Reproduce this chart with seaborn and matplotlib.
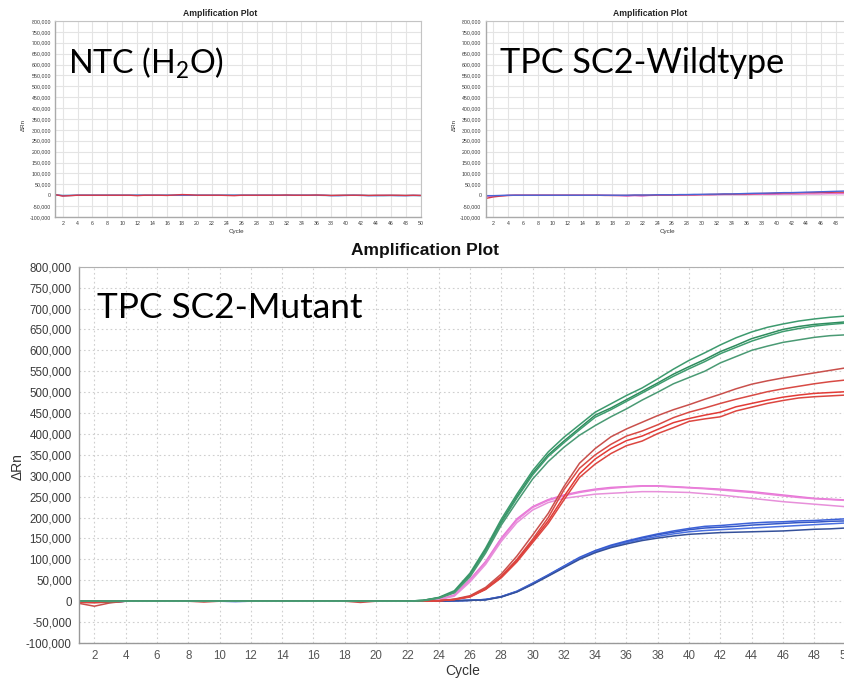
import matplotlib
matplotlib.use('Agg')
import numpy as np
import pandas as pd
import matplotlib.pyplot as plt
import seaborn as sns
from matplotlib.ticker import FuncFormatter, MultipleLocator

# cycles shown on all three plots
cycles = list(range(1, 51))

# --- TPC SC2-Mutant (big plot), dRn in thousands, one list per well ---
green_a = [0, 0, -1, 0, 0, 0, 0, 0, 0, 0,
           0, 0, 0, 0, 0, 0, 0, 0, 0, 0,
           0, 0, 2, 9, 25, 67, 127, 196, 256, 312,
           357, 392, 422, 452, 472, 492, 510, 532, 555, 576,
           594, 613, 630, 644, 655, 663, 670, 675, 679, 682]
green_b = [0, 0, 0, 0, 0, 0, 0, 0, 0, 0,
           0, 0, 0, 0, 0, 0, 0, 0, 0, 0,
           0, 0, 2, 8, 22, 63, 122, 190, 250, 306,
           350, 383, 414, 445, 462, 482, 502, 522, 543, 561,
           578, 597, 612, 628, 639, 650, 657, 662, 665, 668]
green_c = [0, 0, 0, 0, 0, 0, 0, 0, 0, 0,
           0, 0, 0, 0, 0, 0, 0, 0, 0, 0,
           0, 0, 2, 8, 21, 61, 119, 187, 247, 302,
           346, 379, 410, 440, 458, 478, 498, 518, 538, 556,
           573, 592, 607, 622, 634, 645, 652, 658, 662, 665]
green_d = [0, 0, 0, 0, 0, 0, 0, 0, 0, 0,
           0, 0, 0, 0, 0, 0, 0, 0, 0, 0,
           0, 0, 1, 7, 20, 58, 115, 182, 238, 292,
           334, 368, 397, 420, 441, 460, 481, 500, 520, 535,
           550, 570, 585, 600, 610, 619, 625, 631, 635, 637]

red_a = [-5, -12, -4, 0, 0, 0, 0, 0, -2, 0,
         0, 0, 0, 0, 0, 0, 0, 0, -3, 0,
         0, 0, 0, 1, 5, 13, 33, 65, 108, 158,
         210, 274, 330, 365, 393, 412, 428, 444, 458, 470,
         483, 495, 508, 519, 527, 534, 540, 546, 552, 558]
red_b = [-3, -4, -2, 0, 0, 0, 0, 0, 0, 0,
         0, 0, 0, 0, 0, 0, 0, 0, 0, 0,
         0, 0, 0, 1, 4, 11, 30, 60, 100, 148,
         200, 266, 318, 350, 375, 395, 407, 422, 439, 452,
         462, 473, 483, 492, 501, 508, 514, 520, 525, 529]
red_c = [0, -2, -1, 0, 0, 0, 0, 0, 0, 0,
         0, 0, 0, 0, 0, 0, 0, 0, 0, 0,
         0, 0, 0, 1, 4, 11, 29, 58, 97, 144,
         192, 250, 305, 340, 365, 384, 395, 411, 427, 437,
         445, 452, 465, 473, 481, 488, 493, 497, 499, 501]
red_d = [0, 0, 0, 0, 0, 0, 0, 0, 0, 0,
         0, 0, 0, 0, 0, 0, 0, 0, 0, 0,
         0, 0, 0, 1, 4, 10, 28, 56, 94, 140,
         186, 242, 296, 328, 353, 372, 383, 401, 415, 430,
         436, 441, 455, 464, 473, 480, 486, 489, 491, 493]

pink_a = [0, -1, 0, 0, 0, 0, 0, 0, 0, 0,
          0, 0, 0, 0, 0, 0, 0, 0, 0, 0,
          0, 0, 1, 4, 15, 52, 95, 151, 197, 226,
          243, 254, 262, 268, 272, 274, 276, 276, 274, 272,
          270, 268, 265, 262, 258, 254, 250, 246, 244, 242]
pink_b = [0, 0, 0, 0, 0, 0, 0, 0, 0, 0,
          0, 0, 0, 0, 0, 0, 0, 0, 0, 0,
          0, 0, 1, 4, 14, 50, 92, 148, 194, 224,
          241, 252, 260, 266, 270, 273, 275, 275, 273, 271,
          269, 266, 263, 260, 256, 252, 248, 245, 243, 241]
pink_c = [0, 0, 0, 0, 0, 0, 0, 0, 0, 0,
          0, 0, 0, 0, 0, 0, 0, 0, 0, 0,
          0, 0, 1, 3, 12, 46, 88, 143, 188, 218,
          236, 246, 251, 256, 258, 260, 262, 262, 261, 260,
          257, 254, 250, 246, 242, 238, 235, 232, 229, 226]

blue_a = [-2, -1, -3, 0, 0, 0, 0, 0, 0, 0,
          -1, 0, 0, 0, 0, 0, 0, 0, 0, 0,
          0, 0, 0, 0, 1, 2, 4, 11, 24, 43,
          63, 84, 105, 121, 134, 144, 153, 161, 168, 174,
          179, 181, 184, 187, 189, 190, 192, 193, 195, 197]
blue_b = [-1, -2, -2, 0, 0, 0, 0, 0, 0, 0,
          0, 0, 0, 0, 0, 0, 0, 0, 0, 0,
          0, 0, 0, 0, 1, 2, 4, 11, 23, 42,
          62, 83, 103, 120, 132, 142, 151, 159, 165, 171,
          175, 177, 179, 182, 184, 186, 188, 189, 191, 192]
blue_c = [0, -1, -1, 0, 0, 0, 0, 0, 0, 0,
          0, 0, 0, 0, 0, 0, 0, 0, 0, 0,
          0, 0, 0, 0, 1, 2, 4, 10, 23, 41,
          61, 82, 102, 118, 130, 140, 148, 155, 161, 166,
          169, 171, 173, 175, 177, 179, 181, 183, 185, 187]
blue_d = [0, 0, 0, 0, 0, 0, 0, 0, 0, 0,
          0, 0, 0, 0, 0, 0, 0, 0, 0, 0,
          0, 0, 0, 0, 1, 2, 3, 10, 22, 40,
          60, 80, 100, 116, 128, 137, 145, 151, 156, 160,
          162, 164, 165, 166, 167, 168, 170, 172, 173, 175]

# --- NTC (H2O), dRn in thousands ---
ntc_red = [3, -4, -2, 0, 0, 0, 0, 0, 0, 0,
           0, -2, 0, 0, 0, -1, 1, 3, 2, 0,
           0, 0, 0, -1, -2, 0, 0, 0, 0, 0,
           0, 1, 0, 0, 0, 1, 0, -1, 0, 0,
           0, 0, -1, 0, 0, 0, 0, -1, 0, -1]
ntc_blue = [2, -2, -1, 0, 0, 0, 0, 0, 0, 0,
            0, 0, 0, 0, 0, 0, 0, 0, 0, 0,
            0, 0, 0, 0, 0, 0, 0, 0, 0, 0,
            0, 0, 0, 0, 0, 0, 0, -2, -2, -1,
            0, -1, -2, -2, -1, -1, -2, -2, -1, -1]
ntc_teal = [1, -1, -1, 0, 0, 0, 0, 0, 0, 0,
            0, 0, 0, 0, 0, 0, 0, 0, 0, 0,
            0, 0, 0, 0, 0, 0, 0, 0, 0, 0,
            0, 0, 0, 0, 0, 0, -1, -1, -1, 0,
            0, 0, -1, -1, -2, -1, -1, -1, -1, -2]

# --- TPC SC2-Wildtype, dRn in thousands ---
wt_red = [-15, -8, -4, -1, 0, 0, 0, 0, 0, 0,
          0, 0, 0, 0, 0, 0, -1, -1, -1, -1,
          0, 0, 0, 1, 1, 1, 2, 2, 2, 3,
          3, 4, 5, 5, 6, 6, 7, 8, 8, 9,
          10, 10, 11, 12, 12, 13, 13, 14, 14, 15]
wt_blue = [-2, -2, -1, 0, 0, 0, 0, 0, 0, 0,
           0, 0, 0, 0, 0, 0, 0, 0, 0, 0,
           1, 1, 1, 2, 2, 2, 3, 3, 4, 4,
           5, 5, 6, 6, 7, 8, 9, 9, 10, 11,
           12, 12, 13, 14, 15, 16, 17, 18, 19, 20]
wt_pink = [-5, -4, -2, -1, 0, 0, 0, 0, 0, 0,
           0, 0, 0, 0, 0, 0, 0, -1, -2, -4,
           -2, -4, -1, 0, 0, 0, 0, 1, 1, 2,
           2, 2, 3, 3, 3, 3, 4, 4, 4, 4,
           5, 5, 5, 6, 6, 6, 7, 7, 7, 8]

mutant_curves = {
    'blue_a': blue_a, 'blue_b': blue_b, 'blue_c': blue_c, 'blue_d': blue_d,
    'pink_a': pink_a, 'pink_b': pink_b, 'pink_c': pink_c,
    'red_a': red_a, 'red_b': red_b, 'red_c': red_c, 'red_d': red_d,
    'green_a': green_a, 'green_b': green_b, 'green_c': green_c, 'green_d': green_d,
}
ntc_curves = {'ntc_teal': ntc_teal, 'ntc_blue': ntc_blue, 'ntc_red': ntc_red}
wt_curves = {'wt_pink': wt_pink, 'wt_red': wt_red, 'wt_blue': wt_blue}

palette = {
    'green_a': '#3d9a6e', 'green_b': '#2f8c5e', 'green_c': '#3f9d70', 'green_d': '#4a9a74',
    'red_a': '#c9504c', 'red_b': '#d84a44', 'red_c': '#e23b36', 'red_d': '#dc4640',
    'pink_a': '#e774d6', 'pink_b': '#ea82da', 'pink_c': '#e790da',
    'blue_a': '#3d62d8', 'blue_b': '#3558c8', 'blue_c': '#4a70e0', 'blue_d': '#34509a',
    'ntc_red': '#d9384a', 'ntc_blue': '#4a70d8', 'ntc_teal': '#5ab0c0',
    'wt_red': '#d9384a', 'wt_blue': '#4a66d8', 'wt_pink': '#e070d0',
}

W, H = 845, 679


def to_long(curves):
    frames = []
    for name, vals in curves.items():
        frames.append(pd.DataFrame({'cycle': cycles, 'drn': np.array(vals) * 1000, 'well': name}))
    return pd.concat(frames, ignore_index=True)


def px_axes(fig, left, right, top, bottom):
    return fig.add_axes([left / W, 1 - bottom / H, (right - left) / W, (bottom - top) / H])


def draw_panel(ax, curves, lw, tick_size, label_size, tick_len, grid_ls, grid_color, spine_color):
    df = to_long(curves)
    sns.lineplot(data=df, x='cycle', y='drn', hue='well', palette=palette, estimator=None,
                 legend=False, ax=ax, linewidth=lw)
    ax.set_xlim(1, 50)
    ax.set_ylim(-100000, 800000)
    ax.set_xticks(range(2, 51, 2))
    ax.yaxis.set_major_locator(MultipleLocator(50000))
    ax.yaxis.set_major_formatter(FuncFormatter(lambda v, p: f'{int(v):,}'))
    ax.grid(True, color=grid_color, linestyle=grid_ls, linewidth=0.8)
    ax.set_axisbelow(True)
    ax.tick_params(labelsize=tick_size, length=tick_len, width=0.6, pad=1.5,
                   colors=spine_color, labelcolor='#3a3a3a')
    for side in ['left', 'bottom']:
        ax.spines[side].set_color(spine_color)
        ax.spines[side].set_linewidth(1.0)
    for side in ['top', 'right']:
        ax.spines[side].set_color('#c4c4c4')
        ax.spines[side].set_linewidth(0.8)
    ax.set_xlabel('Cycle', fontsize=label_size, color='#333333')
    ax.set_ylabel('ΔRn', fontsize=label_size, color='#333333')


def main():
    sns.set_style('white')
    plt.rcParams['font.family'] = ['Liberation Sans', 'DejaVu Sans']
    plt.rcParams['mathtext.fontset'] = 'custom'
    plt.rcParams['mathtext.rm'] = 'Lato'

    fig = plt.figure(figsize=(W / 100, H / 100), dpi=100)

    # top left: NTC
    ax1 = px_axes(fig, 55.2, 420.7, 21, 217)
    draw_panel(ax1, ntc_curves, 1.0, 3.8, 4.5, 1.5, '-', '#e4e4e4', '#aaaaaa')
    ax1.xaxis.set_label_coords(0.497, -0.062)
    ax1.yaxis.set_label_coords(-0.079, 0.47)

    # top right: wildtype (cut off at the right edge, last tick label not visible)
    ax2 = px_axes(fig, 485.6, 851, 21, 217)
    draw_panel(ax2, wt_curves, 1.0, 3.8, 4.5, 1.5, '-', '#e4e4e4', '#aaaaaa')
    ax2.set_xticklabels([str(c) if c < 50 else '' for c in range(2, 51, 2)])
    ax2.xaxis.set_label_coords(0.497, -0.062)
    ax2.yaxis.set_label_coords(-0.079, 0.47)

    # bottom: mutant
    ax3 = px_axes(fig, 78.7, 845.6, 266.7, 643)
    draw_panel(ax3, mutant_curves, 1.1, 8.3, 10, 2.5, (0, (1.5, 2.5)), '#cfcfcf', '#999999')
    ax3.tick_params(pad=2.5)
    ax3.tick_params(axis='x', labelcolor='#555555')
    ax3.xaxis.set_label_coords(0.501, -0.055)
    ax3.yaxis.set_label_coords(-0.071, 0.47)
    ax3.spines['top'].set_color('#b0b0b0')

    # plot titles
    fig.text(220 / W, 1 - 13.5 / H, 'Amplification Plot', ha='center', va='center',
             fontsize=6.2, fontweight='bold', color='#222222')
    fig.text(650 / W, 1 - 13.5 / H, 'Amplification Plot', ha='center', va='center',
             fontsize=6.2, fontweight='bold', color='#222222')
    fig.text(425.5 / W, 1 - 251 / H, 'Amplification Plot', ha='center', va='center',
             fontsize=12.5, fontweight='bold', color='#111111')

    # sample labels
    fig.text(68 / W, 1 - 73.3 / H, 'NTC (H$_2$O)', ha='left', va='baseline',
             fontsize=23.2, family='Lato', color='black')
    fig.text(500 / W, 1 - 73.3 / H, 'TPC SC2-Wildtype', ha='left', va='baseline',
             fontsize=24.7, family='Lato', color='black')
    fig.text(97 / W, 1 - 317.7 / H, 'TPC SC2-Mutant', ha='left', va='baseline',
             fontsize=25.4, family='Lato', color='black')

    fig.savefig('out.png', dpi=100)


if __name__ == '__main__':
    main()
